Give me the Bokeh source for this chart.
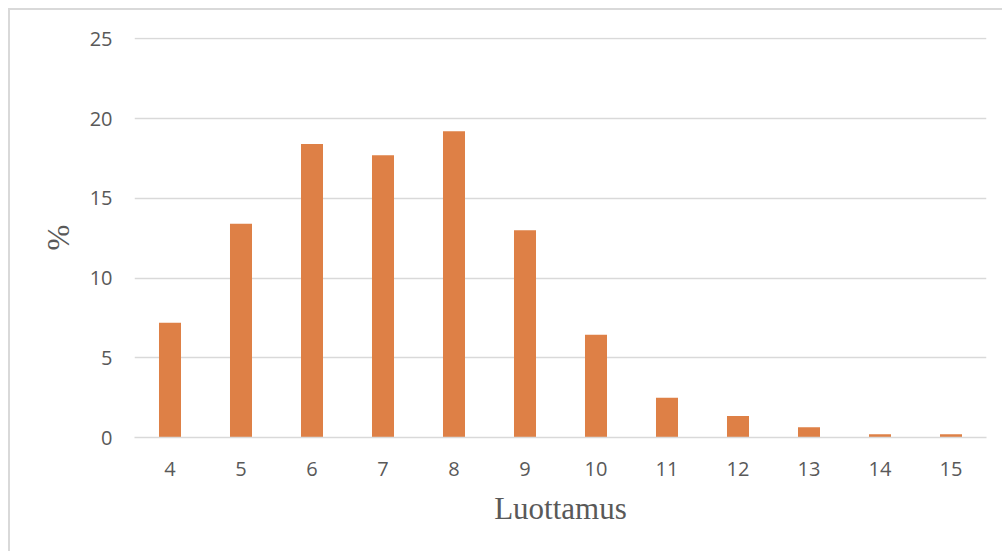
from bokeh.plotting import figure
from bokeh.models import FactorRange, Range1d, FixedTicker
from bokeh.embed import file_html
from bokeh.resources import INLINE

categories = ["4", "5", "6", "7", "8", "9", "10", "11", "12", "13", "14", "15"]
values = [7.2, 13.4, 18.4, 17.7, 19.2, 13.0, 6.45, 2.5, 1.35, 0.65, 0.2, 0.2]
y_ticks = [0, 5, 10, 15, 20, 25]

p = figure(width=994, height=543, output_backend="svg", toolbar_location=None,
           x_range=FactorRange(factors=categories, range_padding=0),
           y_range=Range1d(0, 25.08),
           min_border_left=124, min_border_right=18, min_border_top=27, min_border_bottom=116)
p.styles = {"border-top": "2px solid #d9d9d9", "border-left": "2px solid #d9d9d9",
            "margin-top": "8px", "margin-left": "8px"}

p.vbar(x=categories, top=values, width=0.31, fill_color="#DE8046", line_color=None)

p.outline_line_color = None
p.xgrid.grid_line_color = None
p.ygrid.grid_line_color = "#d9d9d9"
p.ygrid.grid_line_width = 1.5
p.yaxis.ticker = FixedTicker(ticks=y_ticks)

for ax in (p.xaxis, p.yaxis):
    ax.major_tick_line_color = None
    ax.minor_tick_line_color = None
    ax.major_label_text_font = "Open Sans"
    ax.major_label_text_font_size = "20px"
    ax.major_label_text_color = "#595959"
    ax.axis_label_text_font = "Liberation Serif"
    ax.axis_label_text_font_size = "31px"
    ax.axis_label_text_font_style = "normal"
    ax.axis_label_text_color = "#595959"

p.yaxis.major_label_standoff = 16
p.xaxis.major_label_standoff = 18
p.yaxis.axis_line_color = None
p.xaxis.axis_line_color = "#d9d9d9"
p.xaxis.axis_line_width = 1.5
p.xaxis.axis_label = "Luottamus"
p.yaxis.axis_label = "%"
p.xaxis.axis_label_standoff = 12
p.yaxis.axis_label_standoff = 11

open("out.html", "w").write(file_html(p, INLINE))
